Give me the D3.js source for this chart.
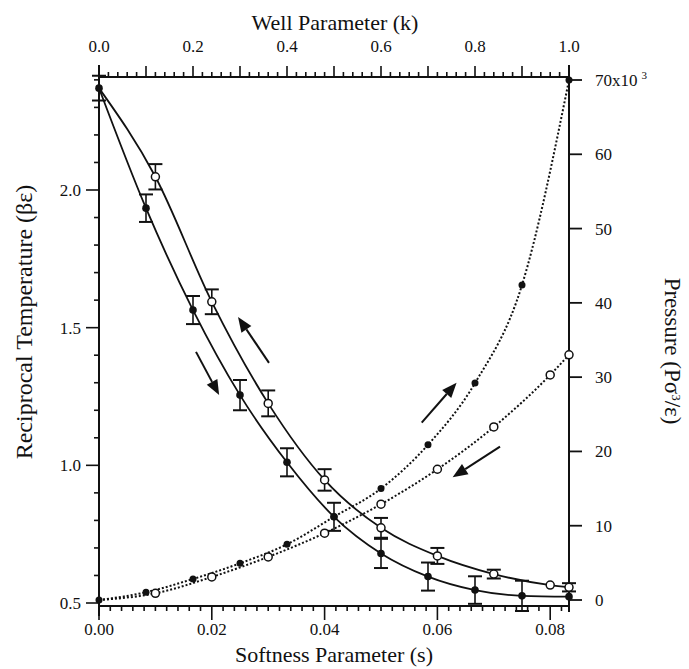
<!DOCTYPE html>
<html><head><meta charset="utf-8">
<script src="https://cdn.jsdelivr.net/npm/d3@7"></script>
<style>
html,body{margin:0;padding:0;background:#fff;}
svg{display:block;}
text{font-family:"Liberation Serif","Times New Roman",serif;fill:#111;}
</style></head>
<body>
<svg id="c" width="689" height="669"></svg>
<script>
// ---- data ----
const wellK = [0, 0.1, 0.2, 0.3, 0.4, 0.5, 0.6, 0.7, 0.8, 0.9, 1.0];
const betaFilled = [2.37, 1.934, 1.564, 1.255, 1.011, 0.813, 0.680, 0.596, 0.547, 0.526, 0.523];
const betaFilledErr = [0.045, 0.05, 0.051, 0.055, 0.051, 0.051, 0.053, 0.051, 0.05, 0.055, 0];
const pressFilled = [0, 1.04, 2.83, 4.94, 7.5, 11.2, 15.0, 20.9, 29.2, 42.4, 70];

const softS = [0, 0.01, 0.02, 0.03, 0.04, 0.05, 0.06, 0.07, 0.08, 1/12];
const betaOpen = [2.37, 2.048, 1.594, 1.225, 0.947, 0.773, 0.671, 0.605, 0.565, 0.557];
const betaOpenErr = [0, 0.046, 0.045, 0.047, 0.039, 0.036, 0.029, 0.016, 0, 0.015];
const pressOpen = [0, 0.9, 3.1, 5.8, 9.0, 12.9, 17.6, 23.3, 30.3, 33.0];

const bottomTicks = [0, 0.02, 0.04, 0.06, 0.08];
const topTicks = [0, 0.2, 0.4, 0.6, 0.8, 1.0];
const leftTicks = [0.5, 1.0, 1.5, 2.0];
const rightTicks = [0, 10, 20, 30, 40, 50, 60, 70];

// arrows: [s0, v0, s1, v1] (tail -> tip)
const arrowsBeta = [[0.03014, 1.372, 0.02465, 1.539], [0.0172, 1.412, 0.0213, 1.255]];
const arrowsPress = [[0.05722, 23.87, 0.0634, 29.25], [0.0711, 20.64, 0.0627, 16.52]];

// ---- layout ----
const L = 99, R = 569, T = 77, B = 606;
const svg = d3.select("#c");
const x = d3.scaleLinear().domain([0, 1/12]).range([L, R]);
const xk = d3.scaleLinear().domain([0, 1]).range([L, R]);
const yL = d3.scaleLinear().domain([0.5, 2.0]).range([603, 190]);
const yR = d3.scaleLinear().domain([0, 70]).range([600, 80]);

const ink = "#111";
const g = svg.append("g");

// frame lines
g.append("line").attr("x1", L).attr("x2", R).attr("y1", B).attr("y2", B).attr("stroke", ink).attr("stroke-width", 2);
g.append("line").attr("x1", L).attr("x2", R).attr("y1", T).attr("y2", T).attr("stroke", ink).attr("stroke-width", 2);
g.append("line").attr("x1", L).attr("x2", L).attr("y1", T - 12).attr("y2", B + 10).attr("stroke", ink).attr("stroke-width", 2);
g.append("line").attr("x1", R).attr("x2", R).attr("y1", T - 12).attr("y2", B + 6).attr("stroke", ink).attr("stroke-width", 2);

// bottom axis ticks (minor every 0.002)
const bMinor = d3.range(0, 84).map(i => i * 0.001).filter((d, i) => i % 2 === 0);
bMinor.forEach(v => {
  const major = Math.abs(v / 0.02 - Math.round(v / 0.02)) < 1e-6;
  g.append("line").attr("x1", x(v)).attr("x2", x(v)).attr("y1", B).attr("y2", B + (major ? 14 : 5))
    .attr("stroke", ink).attr("stroke-width", 1.6);
});
bottomTicks.forEach(v => {
  g.append("text").attr("x", x(v)).attr("y", 635).attr("text-anchor", "middle")
    .attr("font-size", 17).text(d3.format(".2f")(v));
});

// top axis ticks (minor every 0.02)
d3.range(0, 51).map(i => i * 0.02).forEach(v => {
  const mid = Math.abs(v / 0.1 - Math.round(v / 0.1)) < 1e-6;
  g.append("line").attr("x1", xk(v)).attr("x2", xk(v)).attr("y1", T).attr("y2", T - (mid ? 11 : 5))
    .attr("stroke", ink).attr("stroke-width", 1.6);
});
topTicks.forEach(v => {
  g.append("text").attr("x", xk(v)).attr("y", 52).attr("text-anchor", "middle")
    .attr("font-size", 17).text(d3.format(".1f")(v));
});

// left axis ticks
d3.range(5, 25).map(i => i / 10).forEach(v => {
  const major = Math.abs(v * 2 - Math.round(v * 2)) < 1e-6;
  g.append("line").attr("x1", L).attr("x2", L - (major ? 13 : 5)).attr("y1", yL(v)).attr("y2", yL(v))
    .attr("stroke", ink).attr("stroke-width", 1.6);
});
leftTicks.forEach(v => {
  g.append("text").attr("x", 81).attr("y", yL(v) + 6).attr("text-anchor", "end")
    .attr("font-size", 17).text(d3.format(".1f")(v));
});

// right axis ticks
rightTicks.forEach(v => {
  g.append("line").attr("x1", R).attr("x2", R + 13).attr("y1", yR(v)).attr("y2", yR(v))
    .attr("stroke", ink).attr("stroke-width", 1.8);
  const t = g.append("text").attr("x", 595).attr("y", yR(v) + 6).attr("font-size", 17);
  if (v === 70) {
    t.text("70x10");
    t.append("tspan").attr("dx", 4).attr("dy", -7).attr("font-size", 11).text("3");
  } else t.text(v);
});

// titles
g.append("text").attr("x", 335).attr("y", 30).attr("text-anchor", "middle").attr("font-size", 22).text("Well Parameter (k)");
g.append("text").attr("x", 334).attr("y", 662).attr("text-anchor", "middle").attr("font-size", 22).text("Softness Parameter (s)");
g.append("text").attr("transform", "translate(32,322) rotate(-90)").attr("text-anchor", "middle").attr("font-size", 24)
  .text("Reciprocal Temperature (βε)");
const rt = g.append("text").attr("transform", "translate(665,351) rotate(90)").attr("text-anchor", "middle").attr("font-size", 23);
rt.append("tspan").text("Pressure (Pσ");
rt.append("tspan").attr("dy", -7).attr("font-size", 13).text("3");
rt.append("tspan").attr("dy", 7).text("/ε)");

// ---- series ----
const filled = wellK.map((k, i) => ({ s: k / 12, b: betaFilled[i], e: betaFilledErr[i], p: pressFilled[i] }));
const open = softS.map((s, i) => ({ s, b: betaOpen[i], e: betaOpenErr[i], p: pressOpen[i] }));

const lineB = d3.line().x(d => x(d.s)).y(d => yL(d.b)).curve(d3.curveMonotoneX);
const lineP = d3.line().x(d => x(d.s)).y(d => yR(d.p)).curve(d3.curveMonotoneX);

[filled, open].forEach(ser => {
  g.append("path").attr("d", lineP(ser)).attr("fill", "none").attr("stroke", ink)
    .attr("stroke-width", 2).attr("stroke-dasharray", "2,2");
});
[filled, open].forEach(ser => {
  g.append("path").attr("d", lineB(ser)).attr("fill", "none").attr("stroke", ink).attr("stroke-width", 1.8);
});

// error bars
[filled, open].forEach(ser => {
  ser.filter(d => d.e > 0).forEach(d => {
    const cx = x(d.s), y0 = yL(d.b - d.e), y1 = yL(d.b + d.e);
    g.append("line").attr("x1", cx).attr("x2", cx).attr("y1", y0).attr("y2", y1).attr("stroke", ink).attr("stroke-width", 1.6);
    [y0, y1].forEach(yy => g.append("line").attr("x1", cx - 7).attr("x2", cx + 7).attr("y1", yy).attr("y2", yy)
      .attr("stroke", ink).attr("stroke-width", 2));
  });
});

// markers
filled.forEach(d => {
  g.append("circle").attr("cx", x(d.s)).attr("cy", yL(d.b)).attr("r", 3.8).attr("fill", ink);
  g.append("circle").attr("cx", x(d.s)).attr("cy", yR(d.p)).attr("r", 3.5).attr("fill", ink);
});
open.forEach((d, i) => {
  if (i === 0) return;
  g.append("circle").attr("cx", x(d.s)).attr("cy", yL(d.b)).attr("r", 4).attr("fill", "#fff").attr("stroke", ink).attr("stroke-width", 1.5);
  g.append("circle").attr("cx", x(d.s)).attr("cy", yR(d.p)).attr("r", 4).attr("fill", "#fff").attr("stroke", ink).attr("stroke-width", 1.5);
});

// arrows
function arrow(x0, y0, x1, y1) {
  const ang = Math.atan2(y1 - y0, x1 - x0);
  const len = 15, hw = 6;
  const bx = x1 - len * Math.cos(ang), by = y1 - len * Math.sin(ang);
  g.append("line").attr("x1", x0).attr("y1", y0).attr("x2", bx).attr("y2", by).attr("stroke", ink).attr("stroke-width", 2);
  const px = -Math.sin(ang) * hw, py = Math.cos(ang) * hw;
  g.append("path").attr("d", `M${x1},${y1}L${bx + px},${by + py}L${bx - px},${by - py}Z`).attr("fill", ink);
}
arrowsBeta.forEach(a => arrow(x(a[0]), yL(a[1]), x(a[2]), yL(a[3])));
arrowsPress.forEach(a => arrow(x(a[0]), yR(a[1]), x(a[2]), yR(a[3])));
</script>
</body></html>
